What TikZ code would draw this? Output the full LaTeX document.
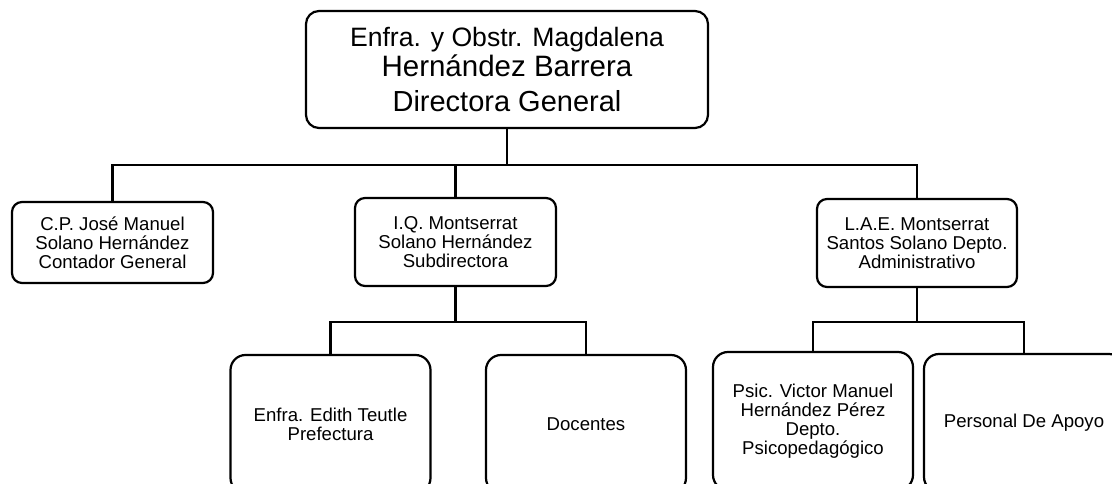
\documentclass[tikz,border=0pt]{standalone}
\usepackage{fontspec}
\setmainfont{Liberation Sans}
\begin{document}
\begin{tikzpicture}[x=1pt, y=-1pt, line width=2.2pt,
    box/.style={draw, rounded corners=10pt, align=center, inner sep=0pt,
        font=\fontsize{18.6}{19}\selectfont},
    lowbox/.style={box, rounded corners=15pt, minimum width=200pt, minimum height=138pt}]
    \useasboundingbox (0,0) rectangle (1112,484);
    \clip (0,0) rectangle (1112,484);

    % Draw the top box
    \node[box, rounded corners=13pt, minimum width=402pt, minimum height=117pt,
        font=\fontsize{26.6}{26}\selectfont] (dir) at (507,69.5)
        {Enfra. y Obstr. Magdalena\\[1pt]
         {\fontsize{29.5}{29}\selectfont Hernández Barrera}\\[9pt]
         {\fontsize{29}{29}\selectfont Directora General}};

    % Draw the second row
    \node[box, minimum width=201pt, minimum height=81pt] (contador) at (112.5,242.5)
        {C.P. José Manuel\\Solano Hernández\\Contador General};
    \node[box, minimum width=201pt, minimum height=88pt] (subdir) at (455.5,242)
        {I.Q. Montserrat\\Solano Hernández\\Subdirectora};
    \node[box, minimum width=200pt, minimum height=88pt] (admin) at (917,243)
        {L.A.E. Montserrat\\Santos Solano Depto.\\Administrativo};

    % Draw the boxes at the bottom
    \node[lowbox] (prefect) at (330.5,424) {Enfra. Edith Teutle\\Prefectura};
    \node[lowbox] (docentes) at (586,424) {Docentes};
    \node[lowbox] (psic) at (813,421)
        {Psic. Victor Manuel\\Hernández Pérez\\Depto.\\Psicopedagógico};
    \node[lowbox] (apoyo) at (1024,423) {Personal De Apoyo};

    % Draw the lines between the boxes
    \draw (dir.south) -- ++(0,36) coordinate (bus);
    \draw (contador.north) |- (bus) -| (admin.north);
    \draw (subdir.north) -- (subdir.north |- bus);

    \draw (subdir.south) -- ++(0,35) coordinate (bus2);
    \draw (prefect.north) |- (bus2) -| (docentes.north);

    \draw (admin.south) -- ++(0,34) coordinate (bus3);
    \draw (psic.north) |- (bus3) -| (apoyo.north);

\end{tikzpicture}
\end{document}
